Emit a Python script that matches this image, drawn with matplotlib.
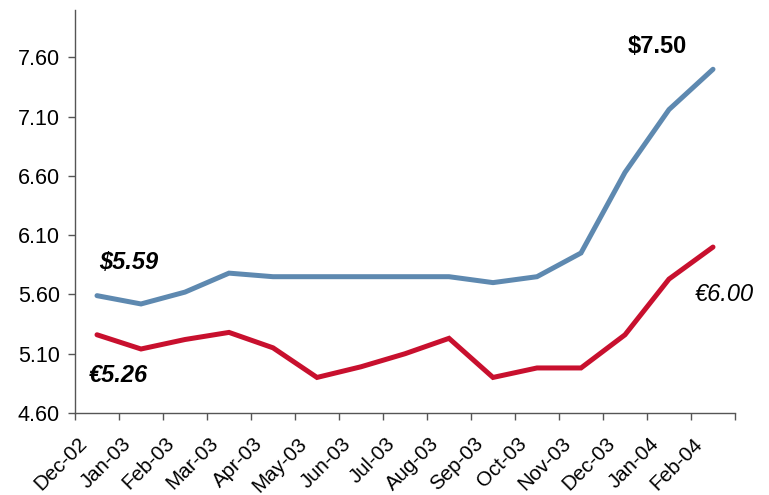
import matplotlib
matplotlib.use("Agg")
import matplotlib.pyplot as plt
import numpy as np

plt.rcParams['font.family'] = ['Liberation Sans', 'DejaVu Sans']

months = ["Dec-02", "Jan-03", "Feb-03", "Mar-03", "Apr-03", "May-03", "Jun-03",
          "Jul-03", "Aug-03", "Sep-03", "Oct-03", "Nov-03", "Dec-03", "Jan-04", "Feb-04"]
usd = [5.59, 5.52, 5.62, 5.78, 5.75, 5.75, 5.75, 5.75, 5.75, 5.70, 5.75, 5.95,
       6.63, 7.16, 7.50]
eur = [5.26, 5.14, 5.22, 5.28, 5.15, 4.90, 4.99, 5.10, 5.23, 4.90, 4.98, 4.98,
       5.26, 5.73, 6.00]
yticks = [4.60, 5.10, 5.60, 6.10, 6.60, 7.10, 7.60]

blue = "#5E89B0"
red = "#C8102E"

fig = plt.figure(figsize=(7.69, 4.95), dpi=100)
ax = fig.add_axes([75 / 769, 1 - 413 / 495, 660 / 769, 403 / 495])

x = np.arange(len(months))
ax.plot(x, usd, color=blue, lw=3.6, solid_joinstyle='miter', solid_capstyle='round')
ax.plot(x, eur, color=red, lw=3.6, solid_joinstyle='miter', solid_capstyle='round')

ax.set_xlim(-0.5, len(months) - 0.5)
ax.set_ylim(4.60, 8.0)

ax.set_yticks(yticks)
ax.set_yticklabels([f"{v:.2f}" for v in yticks], fontsize=15.5)
ax.set_xticks(np.arange(len(months) + 1) - 0.5)
ax.set_xticklabels([])
for i, m in enumerate(months):
    ax.annotate(m, xy=(i, 0), xycoords=('data', 'axes fraction'),
                xytext=(-20, -21), textcoords='offset pixels',
                rotation=45, rotation_mode='anchor', ha='right', va='top',
                fontsize=14.8, color="#000000")

ax.tick_params(axis='both', direction='out', length=5, width=1, colors="#555555",
               labelcolor="#000000")
ax.tick_params(axis='y', pad=6)
for side in ("top", "right"):
    ax.spines[side].set_visible(False)
for side in ("left", "bottom"):
    ax.spines[side].set_color("#555555")
    ax.spines[side].set_linewidth(1)

# value callouts
ax.annotate(f"${usd[0]:.2f}", xy=(0, usd[0]), xytext=(32, 33), textcoords='offset pixels',
            ha='center', va='center', fontsize=17, fontweight='bold', fontstyle='italic')
ax.annotate(f"€{eur[0]:.2f}", xy=(0, eur[0]), xytext=(21, -41), textcoords='offset pixels',
            ha='center', va='center', fontsize=17, fontweight='bold', fontstyle='italic')
ax.annotate(f"${usd[-1]:.2f}", xy=(len(months) - 1, usd[-1]), xytext=(-56, 23),
            textcoords='offset pixels', ha='center', va='center', fontsize=17,
            fontweight='bold')
ax.annotate(f"€{eur[-1]:.2f}", xy=(len(months) - 1, eur[-1]), xytext=(11, -47),
            textcoords='offset pixels', ha='center', va='center', fontsize=17,
            fontstyle='italic')

fig.savefig("out.png", dpi=100)
